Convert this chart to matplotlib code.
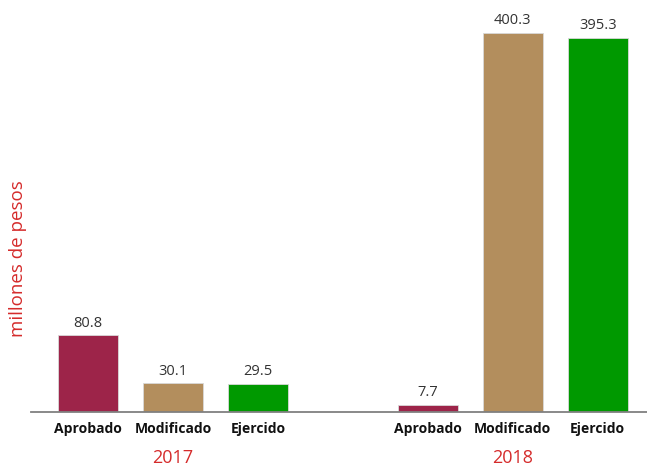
import matplotlib
matplotlib.use("Agg")
import matplotlib.pyplot as plt

years = ["2017", "2018"]
categories = ["Aprobado", "Modificado", "Ejercido"]
values_2017 = [80.8, 30.1, 29.5]
values_2018 = [7.7, 400.3, 395.3]
colors = ["#9D2449", "#B38E5D", "#009900"]

fig = plt.figure(figsize=(6.47, 4.66), dpi=100)
ax = fig.add_axes([31/647, 1 - 412/466, 1 - 31/647, 412/466])

positions = [0, 1, 2, 4, 5, 6]
vals = values_2017 + values_2018
cols = colors * 2
labels = categories * 2
bars = ax.bar(positions, vals, width=0.71, color=cols, edgecolor="#d9d9d9", linewidth=0.6, zorder=2)
for p, v in zip(positions, vals):
    ax.text(p, v + 5, f"{v:.1f}", ha="center", va="bottom", fontsize=10.5, color="#333333",
            family=["Open Sans", "DejaVu Sans"])

ax.set_xlim(-0.67, 6.58)
ax.set_ylim(0, 435)
ax.set_yticks([])
ax.set_xticks(positions)
ax.set_xticklabels(labels, fontsize=10, fontweight="bold", color="#111111", family=["Open Sans", "DejaVu Sans"])
ax.tick_params(axis="x", length=0, pad=7)
for s in ["top", "right", "left"]:
    ax.spines[s].set_visible(False)
ax.spines["bottom"].set_color("#808080")
ax.spines["bottom"].set_linewidth(1.3)

red = "#D52B2B"
for yr, center in zip(years, [1, 5]):
    ax.text(center, -49, yr, ha="center", va="center", fontsize=13, color=red,
            family=["Open Sans", "DejaVu Sans"])

fig.text(18/647, 1 - 259/466, "millones de pesos", rotation=90, ha="center", va="center",
         fontsize=13.5, color=red, family=["Open Sans", "DejaVu Sans"])

fig.savefig("out.png", dpi=100)
